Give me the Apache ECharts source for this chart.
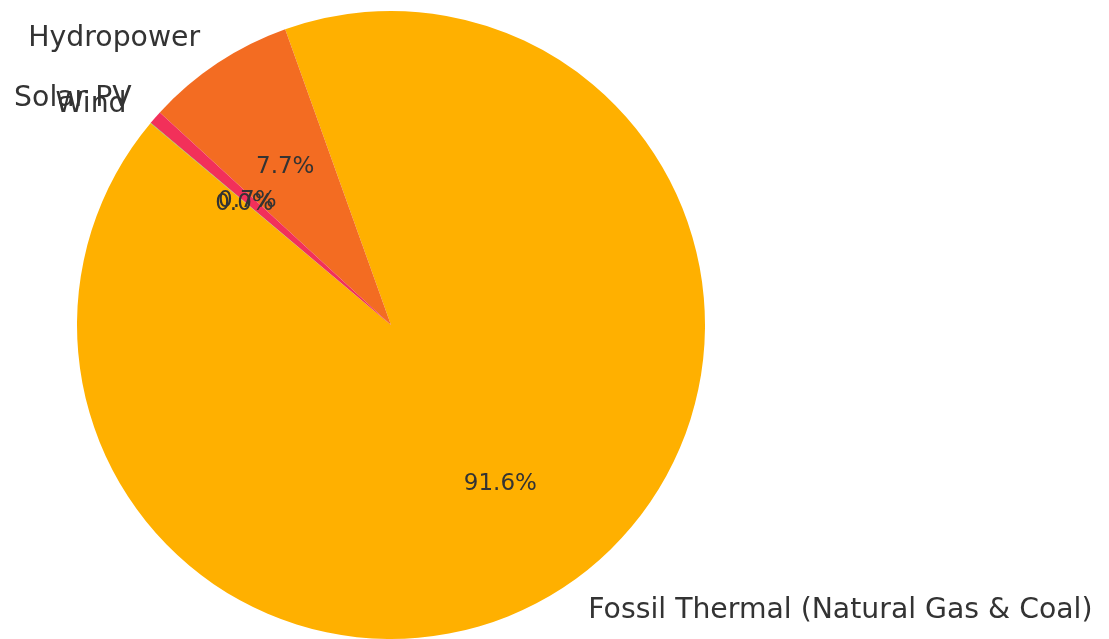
<!DOCTYPE html>
<html>
<head>
<meta charset="utf-8">
<script src="https://cdn.jsdelivr.net/npm/echarts@6/dist/echarts.min.js"></script>
<style>
html,body{margin:0;padding:0;background:#fff;}
#chart{width:1109px;height:639px;}
</style>
</head>
<body>
<div id="chart"></div>
<script>
const categories = ['Fossil Thermal (Natural Gas & Coal)', 'Hydropower', 'Solar PV', 'Wind'];
const values = [91.6, 7.7, 0.7, 0.02];
const colors = ['#FFB000', '#F36C22', '#F2305A', '#8FB339'];

const R = 314;
const CENTER = [391, 325];
const FONT = 'DejaVu Sans';

const data = categories.map((name, i) => ({ name: name, value: values[i], itemStyle: { color: colors[i] } }));
const pctData = categories.map((name, i) => ({ name: name, value: values[i] }));

const chart = echarts.init(document.getElementById('chart'), null, { renderer: 'canvas' });
chart.setOption({
  animation: false,
  backgroundColor: '#ffffff',
  series: [
    {
      type: 'pie',
      center: CENTER,
      radius: [0, R],
      startAngle: 140,
      clockwise: false,
      avoidLabelOverlap: false,
      minShowLabelAngle: 0,
      silent: true,
      data: data,
      itemStyle: { borderWidth: 0 },
      label: {
        show: true,
        position: 'outside',
        formatter: '{b}',
        fontFamily: FONT,
        fontSize: 28.3,
        color: '#333333',
        distanceToLabelLine: 0,
        overflow: 'none',
        offset: [0, 2]
      },
      labelLayout: { hideOverlap: false, moveOverlap: null },
      labelLine: { show: false, length: R * 0.1, length2: 0 },
      emphasis: { disabled: true }
    },
    {
      type: 'pie',
      center: CENTER,
      radius: [0, R * 1.2],
      startAngle: 140,
      clockwise: false,
      avoidLabelOverlap: false,
      minShowLabelAngle: 0,
      silent: true,
      z: 5,
      data: pctData,
      itemStyle: { color: 'rgba(0,0,0,0)', borderWidth: 0 },
      label: {
        show: true,
        position: 'inside',
        formatter: function (p) { return p.percent.toFixed(1) + '%'; },
        fontFamily: FONT,
        fontSize: 23,
        color: '#333333',
        offset: [0, 2]
      },
      labelLayout: { hideOverlap: false, moveOverlap: null },
      labelLine: { show: false },
      emphasis: { disabled: true }
    }
  ]
});
</script>
</body>
</html>
